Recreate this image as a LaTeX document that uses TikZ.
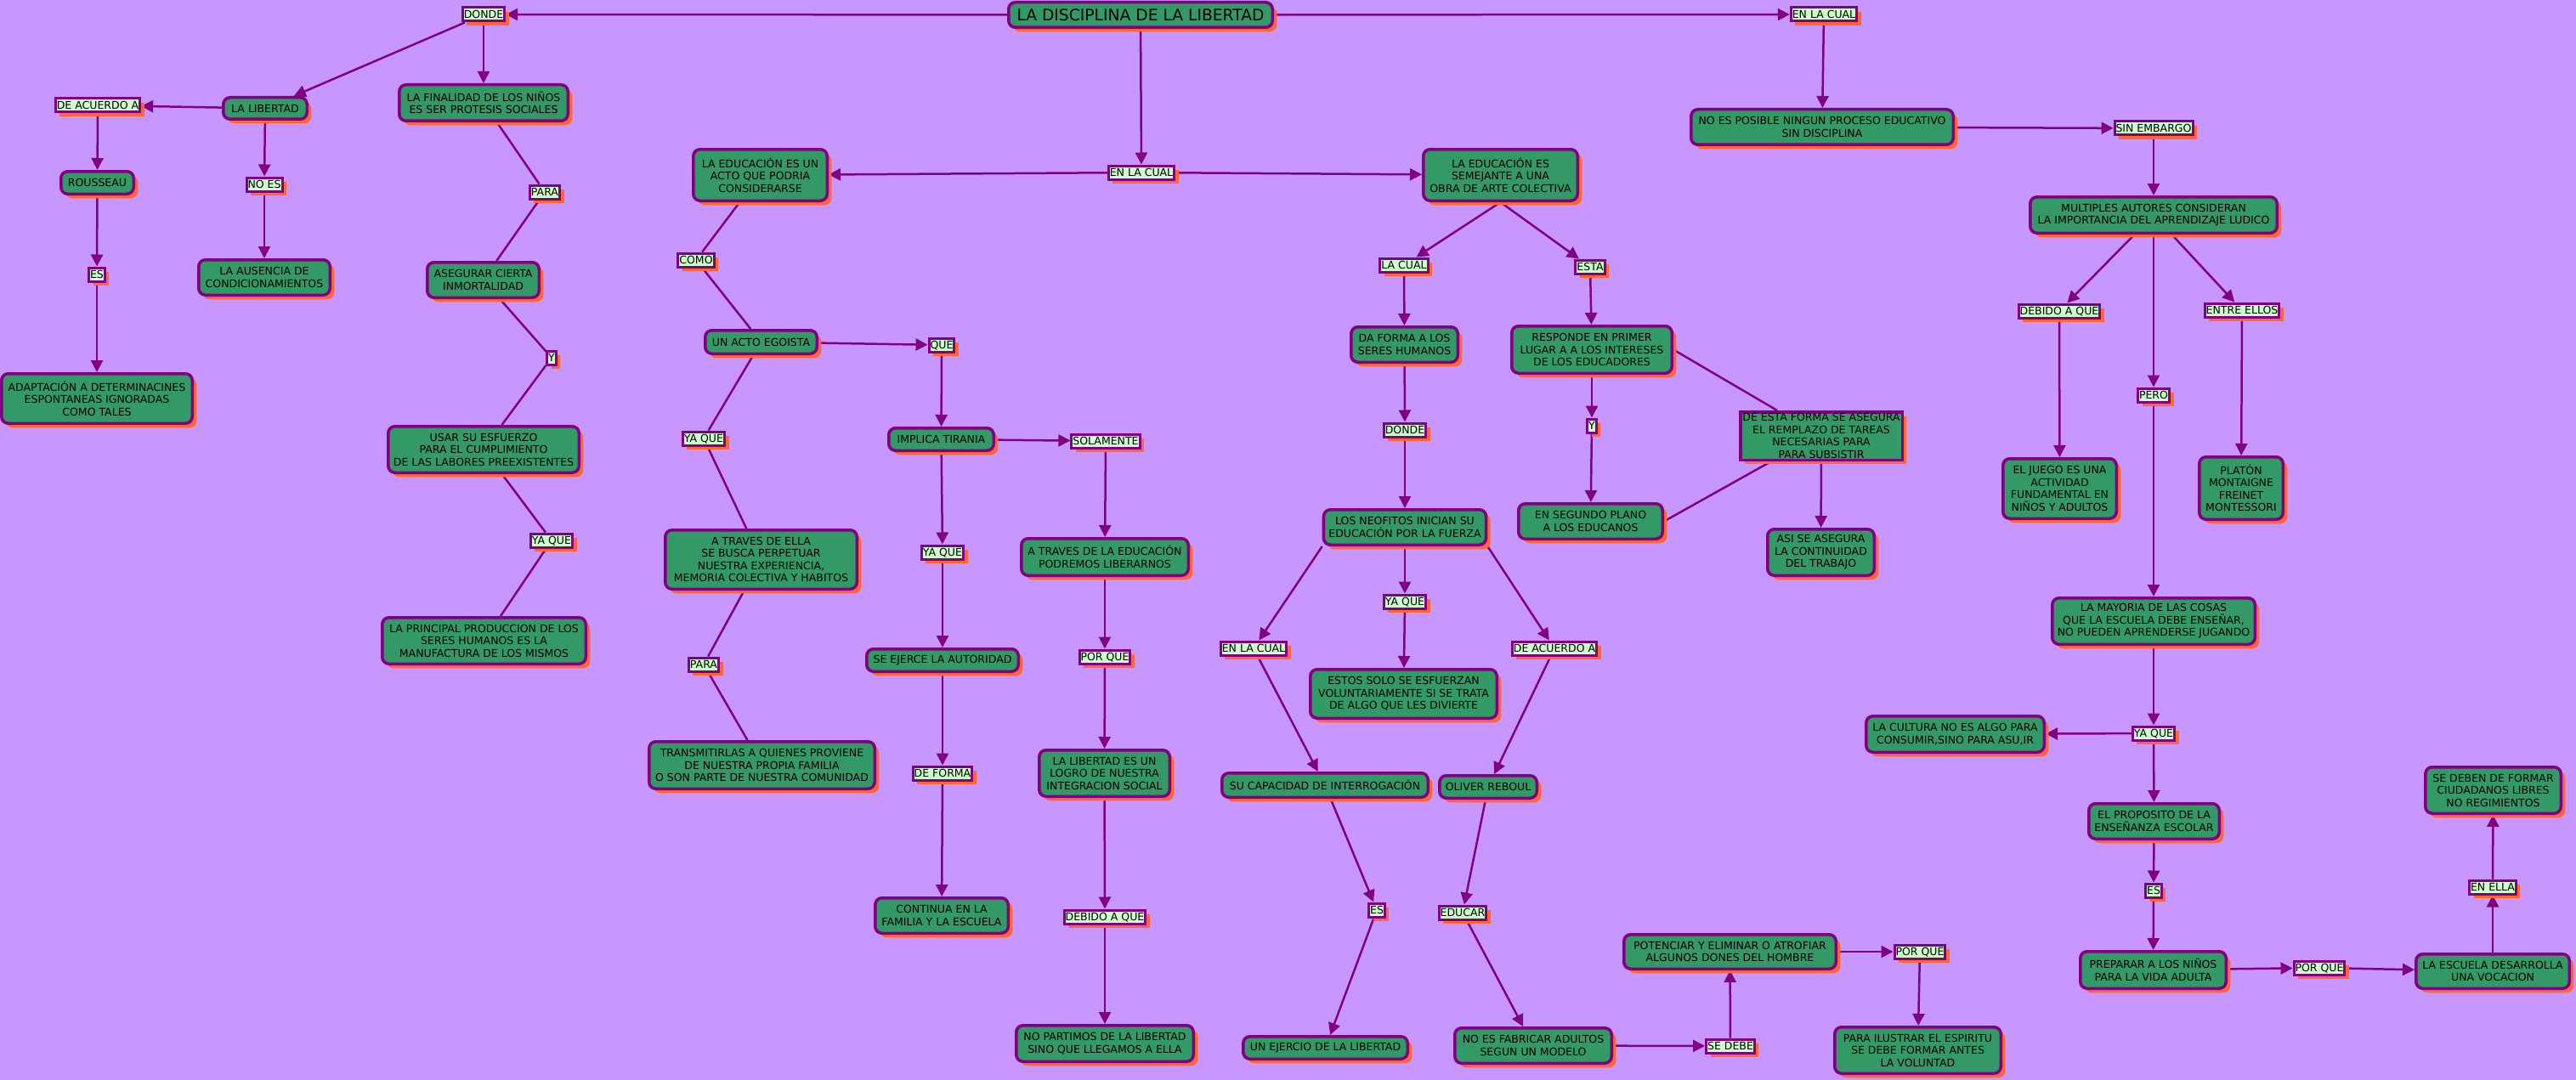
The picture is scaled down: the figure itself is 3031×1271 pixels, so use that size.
\documentclass[tikz,border=0pt]{standalone}
\usepackage{fontspec}
\setmainfont{DejaVu Sans}
\usetikzlibrary{arrows.meta,shadows}
\definecolor{bgc}{RGB}{200,150,255}
\definecolor{cgreen}{RGB}{51,153,102}
\definecolor{purp}{RGB}{128,0,128}
\definecolor{shad}{RGB}{255,102,51}
\definecolor{lgreen}{RGB}{204,255,204}
\pgfdeclarelayer{bglayer}
\pgfdeclarelayer{lines}
\pgfsetlayers{bglayer,lines,main}
\tikzset{
  concept/.style={draw=purp, line width=3.5pt, fill=cgreen, rounded corners=8pt, align=center,
    font=\fontsize{12.5}{14.5}\selectfont, inner xsep=6pt, inner ysep=5pt,
    drop shadow={shadow xshift=5pt, shadow yshift=-5pt, fill=shad, opacity=1}},
  sz/.style 2 args={minimum width=#1pt, minimum height=#2pt},
  lbl/.style={draw=purp, line width=3pt, fill=lgreen, font=\fontsize{12.5}{14.5}\selectfont,
    inner xsep=1.5pt, inner ysep=3pt, text height=9.5pt, text depth=0.5pt,
    drop shadow={shadow xshift=5pt, shadow yshift=-5pt, fill=shad, opacity=1}},
  conn/.style={draw=purp, line width=2.5pt},
  conna/.style={conn, -{Triangle[length=14pt,width=14pt]}},
}
\begin{document}
\begin{tikzpicture}[x=1pt,y=-1pt]
\begin{pgfonlayer}{bglayer}
\path[use as bounding box, fill=bgc] (0,0) rectangle (3031,1271);
\end{pgfonlayer}

% ---------- concepts ----------
\node[concept, sz={310.5}{29.5}, font=\fontsize{18.7}{22}\selectfont] (title) at (1342,17.5) {LA DISCIPLINA DE LA LIBERTAD};
\node[concept, sz={98.5}{25.5}] (libertad) at (312,127.5) {LA LIBERTAD};
\node[concept, sz={85.5}{26.5}] (rousseau) at (114.5,215) {ROUSSEAU};
\node[concept, sz={224.5}{58.5}] (adapt) at (114,469) {ADAPTACIÓN A DETERMINACINES\\ESPONTANEAS IGNORADAS\\COMO TALES};
\node[concept, sz={154.5}{41.5}] (ausencia) at (311,326.5) {LA AUSENCIA DE\\CONDICIONAMIENTOS};
\node[concept, sz={198.5}{42.5}] (finalidad) at (569,121) {LA FINALIDAD DE LOS NIÑOS\\ES SER PROTESIS SOCIALES};
\node[concept, sz={131.5}{41.5}] (asegurar) at (568.5,329.5) {ASEGURAR CIERTA\\INMORTALIDAD};
\node[concept, sz={224.5}{54.5}] (usar) at (569,529) {USAR SU ESFUERZO\\PARA EL CUMPLIMIENTO\\DE LAS LABORES PREEXISTENTES};
\node[concept, sz={239.5}{54.5}] (principal) at (569.5,754) {LA PRINCIPAL PRODUCCION DE LOS\\SERES HUMANOS ES LA\\MANUFACTURA DE LOS MISMOS};
\node[concept, sz={157.5}{60.5}] (eduacto) at (894.5,206) {LA EDUCACIÓN ES UN\\ACTO QUE PODRIA\\CONSIDERARSE};
\node[concept, sz={131.5}{27.5}] (egoista) at (895.5,402.5) {UN ACTO EGOISTA};
\node[concept, sz={225.5}{69.5}] (atravesella) at (895.5,658.5) {A TRAVES DE ELLA\\SE BUSCA PERPETUAR\\NUESTRA EXPERIENCIA,\\MEMORIA COLECTIVA Y HABITOS};
\node[concept, sz={265.5}{55.5}] (transmit) at (896.5,900.5) {TRANSMITIRLAS A QUIENES PROVIENE\\DE NUESTRA PROPIA FAMILIA\\O SON PARTE DE NUESTRA COMUNIDAD};
\node[concept, sz={123.5}{26.5}] (tirania) at (1107.5,517) {IMPLICA TIRANIA};
\node[concept, sz={178.5}{26.5}] (ejerce) at (1109,777) {SE EJERCE LA AUTORIDAD};
\node[concept, sz={156.5}{41.5}] (continua) at (1108,1077.5) {CONTINUA EN LA\\FAMILIA Y LA ESCUELA};
\node[concept, sz={196.5}{43.5}] (atraveseduc) at (1300,655.5) {A TRAVES DE LA EDUCACIÓN\\PODREMOS LIBERARNOS};
\node[concept, sz={153.5}{54.5}] (logro) at (1299.5,910) {LA LIBERTAD ES UN\\LOGRO DE NUESTRA\\INTEGRACION SOCIAL};
\node[concept, sz={208.5}{42.5}] (partimos) at (1300,1228) {NO PARTIMOS DE LA LIBERTAD\\SINO QUE LLEGAMOS A ELLA};
\node[concept, sz={181.5}{60.5}] (semejante) at (1765.5,206) {LA EDUCACIÓN ES\\SEMEJANTE A UNA\\OBRA DE ARTE COLECTIVA};
\node[concept, sz={125.5}{41.5}] (daforma) at (1652.5,405.5) {DA FORMA A LOS\\SERES HUMANOS};
\node[concept, sz={188.5}{55.5}] (responde) at (1873,411.5) {RESPONDE EN PRIMER\\LUGAR A A LOS INTERESES\\DE LOS EDUCADORES};
\node[concept, sz={190.5}{41.5}] (neofitos) at (1653,620.5) {LOS NEOFITOS INICIAN SU\\EDUCACIÓN POR LA FUERZA};
\node[concept, sz={169.5}{41.5}] (segundo) at (1871.5,613.5) {EN SEGUNDO PLANO\\A LOS EDUCANOS};
\node[concept, sz={125.5}{54.5}] (asi) at (2142.5,650) {ASI SE ASEGURA\\LA CONTINUIDAD\\DEL TRABAJO};
\node[concept, sz={219.5}{57.5}] (estos) at (1651.5,816.5) {ESTOS SOLO SE ESFUERZAN\\VOLUNTARIAMENTE SI SE TRATA\\DE ALGO QUE LES DIVIERTE};
\node[concept, sz={242.5}{28.5}] (capacidad) at (1559,924) {SU CAPACIDAD DE INTERROGACIÓN};
\node[concept, sz={114.5}{26.5}] (oliver) at (1751,926) {OLIVER REBOUL};
\node[concept, sz={193.5}{26.5}] (ejercio) at (1559.5,1233) {UN EJERCIO DE LA LIBERTAD};
\node[concept, sz={184.5}{41.5}] (fabricar) at (1804,1230.5) {NO ES FABRICAR ADULTOS\\SEGUN UN MODELO};
\node[concept, sz={249.5}{40.5}] (potenciar) at (2035.5,1120) {POTENCIAR Y ELIMINAR O ATROFIAR\\ALGUNOS DONES DEL HOMBRE};
\node[concept, sz={195.5}{54.5}] (ilustrar) at (2256.5,1236) {PARA ILUSTRAR EL ESPIRITU\\SE DEBE FORMAR ANTES\\LA VOLUNTAD};
\node[concept, sz={308.5}{41.5}] (noposible) at (2144,149.5) {NO ES POSIBLE NINGUN PROCESO EDUCATIVO\\SIN DISCIPLINA};
\node[concept, sz={290.5}{42.5}] (multiples) at (2534,253) {MULTIPLES AUTORES CONSIDERAN\\LA IMPORTANCIA DEL APRENDIZAJE LUDICO};
\node[concept, sz={133.5}{70.5}] (juego) at (2423.5,575) {EL JUEGO ES UNA\\ACTIVIDAD\\FUNDAMENTAL EN\\NIÑOS Y ADULTOS};
\node[concept, sz={98.5}{73.5}] (platon) at (2637,574.5) {PLATÓN\\MONTAIGNE\\FREINET\\MONTESSORI};
\node[concept, sz={238.5}{54.5}] (mayoria) at (2534,731) {LA MAYORIA DE LAS COSAS\\QUE LA ESCUELA DEBE ENSEÑAR,\\NO PUEDEN APRENDERSE JUGANDO};
\node[concept, sz={209.5}{42.5}] (cultura) at (2300.5,864) {LA CULTURA NO ES ALGO PARA\\CONSUMIR,SINO PARA ASU,IR};
\node[concept, sz={153.5}{41.5}] (proposito) at (2534.5,966.5) {EL PROPOSITO DE LA\\ENSEÑANZA ESCOLAR};
\node[concept, sz={171.5}{43.5}] (preparar) at (2533.5,1141.5) {PREPARAR A LOS NIÑOS\\PARA LA VIDA ADULTA};
\node[concept, sz={180.5}{40.5}] (escuela) at (2933,1143) {LA ESCUELA DESARROLLA\\UNA VOCACION};
\node[concept, sz={159.5}{54.5}] (deben) at (2933.5,930) {SE DEBEN DE FORMAR\\CIUDADANOS LIBRES\\NO REGIMIENTOS};
\node[concept, sharp corners, inner xsep=2pt, inner ysep=1pt, sz={190.5}{56.5}] (estaforma) at (2143,513) {DE ESTA FORMA SE ASEGURA\\EL REMPLAZO DE TAREAS\\NECESARIAS PARA\\PARA SUBSISTIR};

% ---------- linking phrases ----------
\node[lbl] (donde1) at (569,17) {DONDE};
\node[lbl] (enlacual1) at (2146,17) {EN LA CUAL};
\node[lbl] (deacuerdo1) at (115,124) {DE ACUERDO A};
\node[lbl] (noes) at (311,217) {NO ES};
\node[lbl] (es1) at (114,323) {ES};
\node[lbl] (para1) at (641,226) {PARA};
\node[lbl] (y1) at (649,421) {Y};
\node[lbl] (yaque1) at (649,636) {YA QUE};
\node[lbl] (enlacual2) at (1343,203) {EN LA CUAL};
\node[lbl] (como) at (819,306) {COMO};
\node[lbl] (que) at (1108,406) {QUE};
\node[lbl] (yaque2) at (828,516) {YA QUE};
\node[lbl] (para2) at (828,782) {PARA};
\node[lbl] (yaque3) at (1109,650) {YA QUE};
\node[lbl] (deforma) at (1109,910) {DE FORMA};
\node[lbl] (solamente) at (1301,519) {SOLAMENTE};
\node[lbl] (porque1) at (1300,773) {POR QUE};
\node[lbl] (debido1) at (1300,1079) {DEBIDO A QUE};
\node[lbl] (lacual) at (1652,312) {LA CUAL};
\node[lbl] (esta) at (1871,314) {ESTA};
\node[lbl] (donde2) at (1653,506) {DONDE};
\node[lbl] (y2) at (1873,501) {Y};
\node[lbl] (yaque4) at (1653,708) {YA QUE};
\node[lbl] (enlacual3) at (1475,763) {EN LA CUAL};
\node[lbl] (deacuerdo2) at (1829,763) {DE ACUERDO A};
\node[lbl] (es2) at (1620,1071) {ES};
\node[lbl] (educar) at (1721,1074) {EDUCAR};
\node[lbl] (sedebe) at (2036,1231) {SE DEBE};
\node[lbl] (porque2) at (2259,1120) {POR QUE};
\node[lbl] (sinembargo) at (2534,151) {SIN EMBARGO};
\node[lbl] (debido2) at (2423,366) {DEBIDO A QUE};
\node[lbl] (entre) at (2638,365) {ENTRE ELLOS};
\node[lbl] (pero) at (2534,465) {PERO};
\node[lbl] (yaque5) at (2534,863) {YA QUE};
\node[lbl] (es3) at (2534,1048) {ES};
\node[lbl] (porque3) at (2729,1139) {POR QUE};
\node[lbl] (enella) at (2933,1044) {EN ELLA};

% ---------- connectors ----------
\begin{pgfonlayer}{lines}
\draw[conna] (title) -- (donde1);
\draw[conna] (title) -- (enlacual1);
\draw[conna] (title) -- (enlacual2);
\draw[conna] (donde1) -- (libertad);
\draw[conna] (donde1) -- (finalidad);
\draw[conna] (libertad) -- (deacuerdo1);
\draw[conna] (deacuerdo1) -- (rousseau);
\draw[conna] (rousseau) -- (es1);
\draw[conna] (es1) -- (adapt);
\draw[conna] (libertad) -- (noes);
\draw[conna] (noes) -- (ausencia);
\draw[conn] (finalidad) -- (para1);
\draw[conn] (para1) -- (asegurar);
\draw[conn] (asegurar) -- (y1);
\draw[conn] (y1) -- (usar);
\draw[conn] (usar) -- (yaque1);
\draw[conn] (yaque1) -- (principal);
\draw[conna] (enlacual2) -- (eduacto);
\draw[conna] (enlacual2) -- (semejante);
\draw[conn] (eduacto) -- (como);
\draw[conn] (como) -- (egoista);
\draw[conna] (egoista) -- (que);
\draw[conn] (egoista) -- (yaque2);
\draw[conn] (yaque2) -- (atravesella);
\draw[conn] (atravesella) -- (para2);
\draw[conn] (para2) -- (transmit);
\draw[conna] (que) -- (tirania);
\draw[conna] (tirania) -- (solamente);
\draw[conna] (tirania) -- (yaque3);
\draw[conna] (yaque3) -- (ejerce);
\draw[conna] (ejerce) -- (deforma);
\draw[conna] (deforma) -- (continua);
\draw[conna] (solamente) -- (atraveseduc);
\draw[conna] (atraveseduc) -- (porque1);
\draw[conna] (porque1) -- (logro);
\draw[conna] (logro) -- (debido1);
\draw[conna] (debido1) -- (partimos);
\draw[conna] (semejante.south) -- (lacual);
\draw[conna] (semejante.south) -- (esta);
\draw[conna] (lacual) -- (daforma);
\draw[conna] (daforma) -- (donde2);
\draw[conna] (donde2) -- (neofitos);
\draw[conna] (esta) -- (responde);
\draw[conna] (responde) -- (y2);
\draw[conna] (y2) -- (segundo);
\draw[conn] (responde.east) -- ([xshift=-52pt]estaforma.north);
\draw[conn] (segundo.east) -- ([xshift=-59pt]estaforma.south);
\draw[conna] (estaforma) -- (asi);
\draw[conna] (neofitos.south west) -- (enlacual3);
\draw[conna] (neofitos) -- (yaque4);
\draw[conna] (neofitos.south east) -- (deacuerdo2);
\draw[conna] (yaque4) -- (estos);
\draw[conna] (enlacual3) -- (capacidad);
\draw[conna] (deacuerdo2) -- (oliver);
\draw[conna] (capacidad) -- (es2);
\draw[conna] (es2) -- (ejercio);
\draw[conna] (oliver) -- (educar);
\draw[conna] (educar) -- (fabricar);
\draw[conna] (fabricar) -- (sedebe);
\draw[conna] (sedebe) -- (potenciar);
\draw[conna] (potenciar) -- (porque2);
\draw[conna] (porque2) -- (ilustrar);
\draw[conna] (enlacual1) -- (noposible);
\draw[conna] (noposible) -- (sinembargo);
\draw[conna] (sinembargo) -- (multiples);
\draw[conna] (multiples) -- (debido2);
\draw[conna] (multiples) -- (entre);
\draw[conna] (multiples) -- (pero);
\draw[conna] (debido2) -- (juego);
\draw[conna] (entre) -- (platon);
\draw[conna] (pero) -- (mayoria);
\draw[conna] (mayoria) -- (yaque5);
\draw[conna] (yaque5) -- (cultura);
\draw[conna] (yaque5) -- (proposito);
\draw[conna] (proposito) -- (es3);
\draw[conna] (es3) -- (preparar);
\draw[conna] (preparar) -- (porque3);
\draw[conna] (porque3) -- (escuela);
\draw[conna] (escuela) -- (enella);
\draw[conna] (enella) -- (deben);
\end{pgfonlayer}
\end{tikzpicture}
\end{document}
